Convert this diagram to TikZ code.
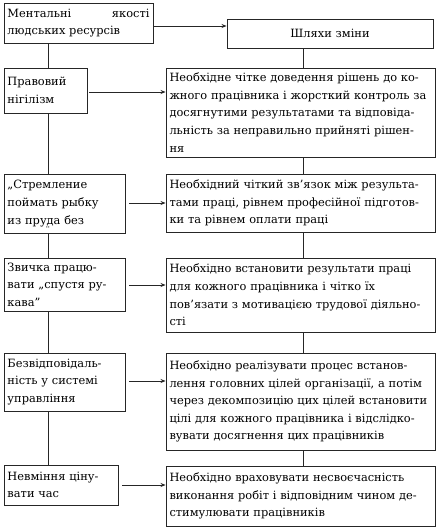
\documentclass[tikz,border=0pt]{standalone}
\usepackage{fontspec}
\setmainfont{DejaVu Serif}
\usetikzlibrary{arrows.meta,calc}
\begin{document}
\begin{tikzpicture}[x=1pt,y=-1pt,
  box/.style={draw=black!85, line width=0.9pt, inner xsep=3.5pt, inner ysep=2pt,
    align=left, font=\fontsize{11.4}{17.6}\selectfont},
  arr/.style={draw=black!85, -{Stealth[length=5pt,width=4pt]}, line width=0.8pt},
  ln/.style={draw=black!85, line width=0.8pt}]
\useasboundingbox (0,0) rectangle (444,528);
\fill[white] (0,0) rectangle (444,528);

% left column
\node[box, minimum width=149pt, minimum height=40pt, text width=142pt] (b1) at (78.5,23) {Ментальні\hfill якості\\людських ресурсів};
\node[box, minimum width=83pt, minimum height=45pt, text width=76pt] (b2) at (45.5,90.5) {Правовий\\нігілізм};
\node[box, minimum width=121pt, minimum height=59pt, text width=114pt] (b3) at (64.5,203.5) {„Стремление\\поймать рыбку\\\smash{\rlap{\hspace{38pt}\raisebox{-10pt}{\fontsize{10}{10}\selectfont ¨}}}из пруда без};
\node[box, minimum width=121pt, minimum height=53pt, text width=114pt] (b4) at (64.5,284.5) {Звичка працю-\\вати „спустя ру-\\кава”};
\node[box, minimum width=121pt, minimum height=58pt, text width=114pt] (b5) at (64.5,382) {Безвідповідаль-\\ність у системі\\управління};
\node[box, minimum width=114pt, minimum height=40pt, text width=107pt] (b6) at (61,485) {Невміння ціну-\\вати час};

% right column
\node[box, minimum width=206pt, minimum height=29pt, text width=199pt, align=center] (sh) at (330,33.5) {Шляхи зміни};
\node[box, minimum width=265pt, minimum height=89pt, text width=262pt] (r1) at (300.5,112.5) {Необхідне чітке доведення рішень до ко-\\жного працівника і жорсткий контроль за\\досягнутими результатами та відповіда-\\льність за неправильно прийняті рішен-\\ня};
\node[box, minimum width=265pt, minimum height=58pt, text width=262pt] (r2) at (300.5,203) {Необхідний чіткий зв’язок між результа-\\тами праці, рівнем професійної підготов-\\ки та рівнем оплати праці};
\node[box, minimum width=265pt, minimum height=74pt, text width=262pt] (r3) at (300.5,295) {Необхідно встановити результати праці\\для кожного працівника і чітко їх\\пов’язати з мотивацією трудової діяльно-\\сті};
\node[box, minimum width=265pt, minimum height=97pt, text width=262pt] (r4) at (300.5,401.5) {Необхідно реалізувати процес встанов-\\лення головних цілей організації, а потім\\через декомпозицію цих цілей встановити\\цілі для кожного працівника і відслідко-\\вувати досягнення цих працівників};
\node[box, minimum width=265pt, minimum height=60pt, text width=262pt] (r5) at (300.5,496) {Необхідно враховувати несвоєчасність\\виконання робіт і відповідним чином де-\\стимулювати працівників};

% guide coordinates
\coordinate (xl) at (48,0);
\coordinate (xr) at (303,0);
\coordinate (y1) at (0,26);
\coordinate (y2) at (0,92);
\coordinate (y3) at (0,203);
\coordinate (y4) at (0,285);
\coordinate (y5) at (0,381);
\coordinate (y6) at (0,485);

% vertical connectors
\draw[ln] (b1.south -| xl) -- (b2.north -| xl);
\draw[ln] (b2.south -| xl) -- (b3.north -| xl);
\draw[ln] (b3.south -| xl) -- (b4.north -| xl);
\draw[ln] (b4.south -| xl) -- (b5.north -| xl);
\draw[ln] (b5.south -| xl) -- (b6.north -| xl);
\draw[ln] (sh.south -| xr) -- (r1.north -| xr);
\draw[ln] (r1.south -| xr) -- (r2.north -| xr);
\draw[ln] (r2.south -| xr) -- (r3.north -| xr);
\draw[ln] (r3.south -| xr) -- (r4.north -| xr);
\draw[ln] (r4.south -| xr) -- (r5.north -| xr);

% horizontal arrows
\draw[arr] (b1.east |- y1) -- (sh.west |- y1);
\draw[arr] ([xshift=2pt]b2.east |- y2) -- (r1.west |- y2);
\draw[arr] ([xshift=4pt]b3.east |- y3) -- (r2.west |- y3);
\draw[arr] ([xshift=4pt]b4.east |- y4) -- (r3.west |- y4);
\draw[arr] ([xshift=4pt]b5.east |- y5) -- (r4.west |- y5);
\draw[arr] ([xshift=4pt]b6.east |- y6) -- (r5.west |- y6);
\end{tikzpicture}
\end{document}
